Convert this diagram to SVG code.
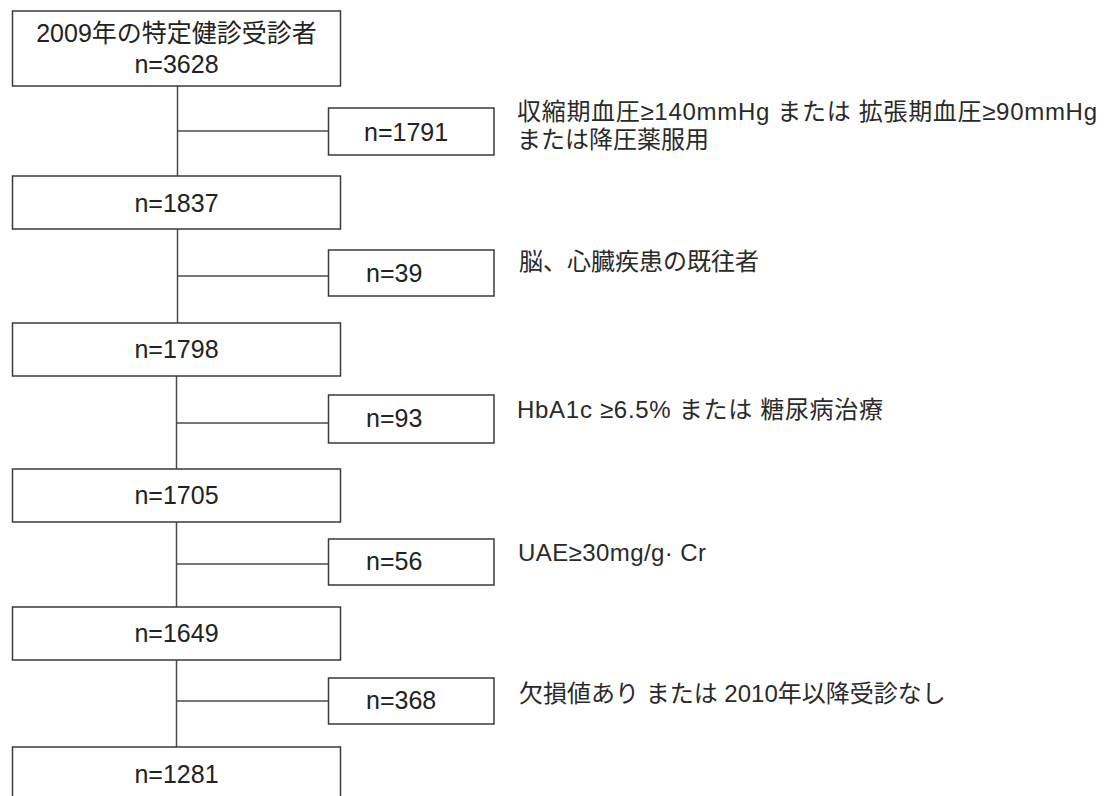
<svg xmlns="http://www.w3.org/2000/svg" width="1112" height="796" viewBox="0 0 1112 796">
  <style>
    .box { fill: #ffffff; stroke: #3a3a3a; stroke-width: 1.5; }
    .conn { stroke: #4a4a4a; stroke-width: 1.5; fill: none; }
    .t { font-family: "Liberation Sans", "Noto Sans CJK JP", sans-serif; font-size: 25px; fill: #222222; }
    .mid { text-anchor: middle; }
    .lbl { font-family: "Liberation Sans", "Noto Sans CJK JP", sans-serif; font-size: 24px; fill: #2a2a2a; }
  </style>
  <rect width="1112" height="796" fill="#ffffff"/>

  <g id="connectors">
    <line class="conn" x1="177.5" y1="86" x2="177.5" y2="176"/>
    <line class="conn" x1="177.5" y1="229" x2="177.5" y2="323"/>
    <line class="conn" x1="176.5" y1="376" x2="176.5" y2="469"/>
    <line class="conn" x1="176.5" y1="522" x2="176.5" y2="607"/>
    <line class="conn" x1="176.5" y1="660" x2="176.5" y2="747"/>
    <line class="conn" x1="178" y1="131" x2="328.5" y2="131"/>
    <line class="conn" x1="178" y1="276" x2="328.5" y2="276"/>
    <line class="conn" x1="177" y1="423" x2="328.5" y2="423"/>
    <line class="conn" x1="177" y1="564" x2="328.5" y2="564"/>
    <line class="conn" x1="177" y1="701" x2="328.5" y2="701"/>
  </g>

  <g id="n-start">
    <rect class="box" x="12.5" y="11" width="328" height="75"/>
    <text class="t mid" x="176.5" y="42">2009年の特定健診受診者</text>
    <text class="t mid" x="176.5" y="73">n=3628</text>
  </g>
  <g id="n-1837">
    <rect class="box" x="12.5" y="176" width="328" height="53"/>
    <text class="t mid" x="176.5" y="212">n=1837</text>
  </g>
  <g id="n-1798">
    <rect class="box" x="12.5" y="323" width="328" height="53"/>
    <text class="t mid" x="176.5" y="358">n=1798</text>
  </g>
  <g id="n-1705">
    <rect class="box" x="12.5" y="469" width="328" height="53"/>
    <text class="t mid" x="176.5" y="504">n=1705</text>
  </g>
  <g id="n-1649">
    <rect class="box" x="12.5" y="607" width="328" height="53"/>
    <text class="t mid" x="176.5" y="642">n=1649</text>
  </g>
  <g id="n-1281">
    <rect class="box" x="12.5" y="747" width="328" height="60"/>
    <text class="t mid" x="176.5" y="783">n=1281</text>
  </g>

  <g id="ex-1791">
    <rect class="box" x="328.5" y="108" width="165.5" height="47"/>
    <text class="t" x="364" y="141">n=1791</text>
    <text class="lbl" x="517" y="120" textLength="580" lengthAdjust="spacing">収縮期血圧≥140mmHg または 拡張期血圧≥90mmHg</text>
    <text class="lbl" x="517" y="148">または降圧薬服用</text>
  </g>
  <g id="ex-39">
    <rect class="box" x="328.5" y="250" width="165.5" height="46"/>
    <text class="t" x="366" y="282">n=39</text>
    <text class="lbl" x="519" y="270">脳、心臓疾患の既往者</text>
  </g>
  <g id="ex-93">
    <rect class="box" x="328.5" y="395" width="165.5" height="48"/>
    <text class="t" x="366" y="427">n=93</text>
    <text class="lbl" x="517" y="418" textLength="366" lengthAdjust="spacing">HbA1c ≥6.5% または 糖尿病治療</text>
  </g>
  <g id="ex-56">
    <rect class="box" x="328.5" y="539" width="165.5" height="46"/>
    <text class="t" x="366" y="570">n=56</text>
    <text class="lbl" x="518" y="561" textLength="188" lengthAdjust="spacing">UAE≥30mg/g· Cr</text>
  </g>
  <g id="ex-368">
    <rect class="box" x="328.5" y="678" width="165.5" height="46"/>
    <text class="t" x="366" y="709">n=368</text>
    <text class="lbl" x="519" y="702">欠損値あり または 2010年以降受診なし</text>
  </g>
</svg>
